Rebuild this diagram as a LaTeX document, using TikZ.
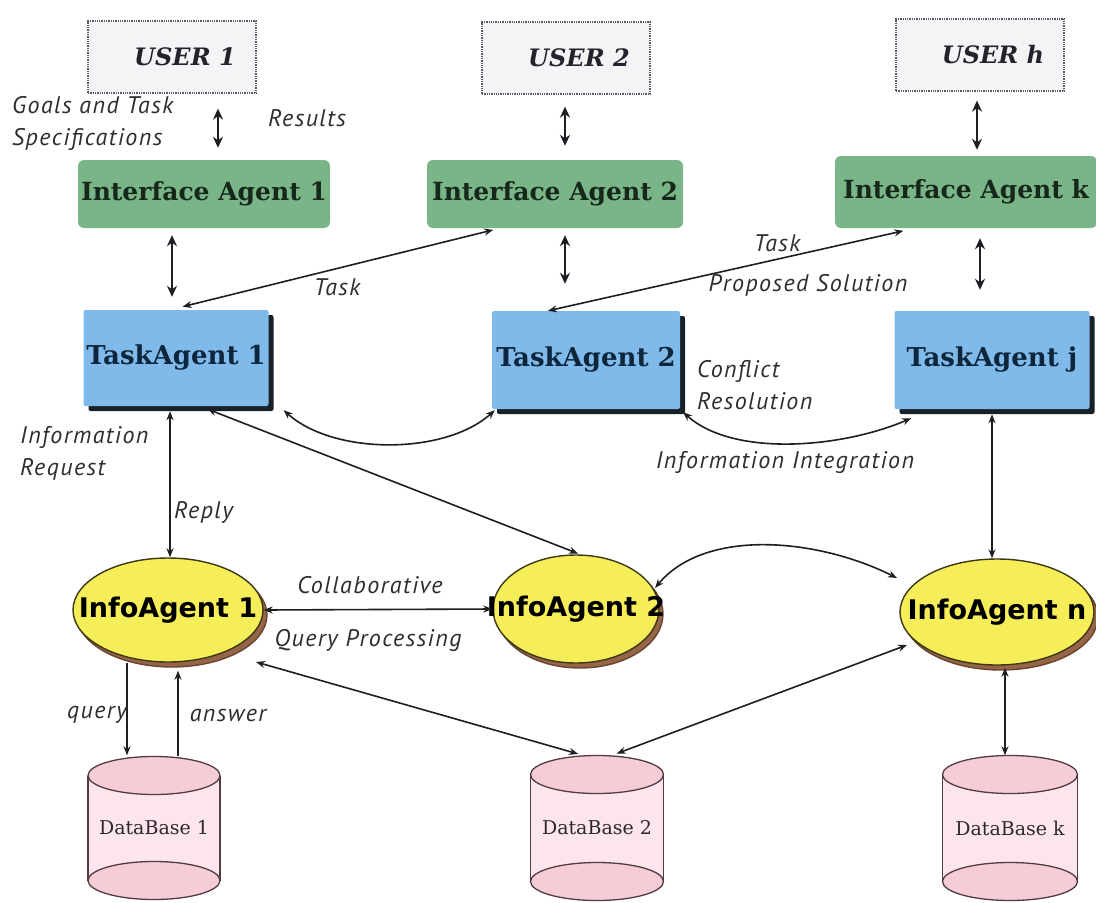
\documentclass[tikz,border=0pt]{standalone}
\usepackage{fontspec}
\usetikzlibrary{shapes.geometric,arrows.meta,shadows}

\newfontfamily\lblfont{PT Sans}[LetterSpace=6]
\newfontfamily\dvserif{DejaVu Serif}
\newfontfamily\dvsans{DejaVu Sans}

\definecolor{userfill}{RGB}{244,244,247}
\definecolor{userline}{RGB}{90,90,100}
\definecolor{usertext}{RGB}{35,35,45}
\definecolor{ifgreen}{RGB}{122,181,136}
\definecolor{iftext}{RGB}{22,40,26}
\definecolor{taskblue}{RGB}{128,186,234}
\definecolor{tasktext}{RGB}{14,38,60}
\definecolor{tshadow}{RGB}{24,32,40}
\definecolor{infoyellow}{RGB}{246,238,88}
\definecolor{infoline}{RGB}{60,55,20}
\definecolor{infoshadow}{RGB}{150,100,70}
\definecolor{dbbody}{RGB}{252,230,236}
\definecolor{dbcap}{RGB}{246,204,214}
\definecolor{dbline}{RGB}{80,60,66}
\definecolor{dbtextcol}{RGB}{45,40,45}
\definecolor{lblgray}{RGB}{45,45,50}
\definecolor{linecol}{RGB}{30,30,35}

% cylinder drawn around a named node: centre x, centre y, width, height, name, text
\newcommand\dbcyl[6]{%
  \fill[dbbody] (#1-#3/2,#2-#4/2+19) rectangle (#1+#3/2,#2+#4/2-19);
  \draw[dbline, line width=1.3pt, fill=dbcap] (#1,#2+#4/2-19) ellipse [x radius=#3/2, y radius=19];
  \draw[dbline, line width=1.3pt] (#1-#3/2,#2-#4/2+19) -- (#1-#3/2,#2+#4/2-19)
                                  (#1+#3/2,#2-#4/2+19) -- (#1+#3/2,#2+#4/2-19);
  \draw[dbline, line width=1.3pt, fill=dbcap] (#1,#2-#4/2+19) ellipse [x radius=#3/2, y radius=19];
  \node[dbtext, minimum width=#3pt, minimum height=#4pt, inner sep=0pt] (#5) at (#1,#2) {#6};
}

\tikzset{
  userbox/.style={draw=userline, densely dotted, line width=1.3pt, fill=userfill,
    minimum width=168pt, minimum height=72pt, inner sep=0pt,
    font=\dvserif\bfseries\itshape\fontsize{24}{27}\selectfont, text=usertext},
  ifbox/.style={rounded corners=6pt, fill=ifgreen, minimum height=68pt, inner sep=0pt,
    font=\dvserif\bfseries\fontsize{25}{28}\selectfont, text=iftext},
  taskbox/.style={fill=taskblue, minimum height=96pt, inner sep=0pt, rounded corners=2pt,
    copy shadow={shadow xshift=5pt, shadow yshift=-5pt, fill=tshadow, draw=none},
    font=\dvserif\bfseries\fontsize{26}{29}\selectfont, text=tasktext},
  infonode/.style={ellipse, draw=infoline, line width=1.4pt, fill=infoyellow,
    copy shadow={shadow xshift=4pt, shadow yshift=-5pt, fill=infoshadow, draw=infoshadow!70!black},
    inner sep=0pt, font=\dvsans\bfseries\fontsize{27}{30}\selectfont, text=black},
  dbtext/.style={font=\dvserif\fontsize{19}{21}\selectfont, text=dbtextcol},
  lbl/.style={font=\lblfont\itshape\fontsize{24}{32}\selectfont, text=lblgray, inner sep=0pt},
  link/.style={line width=1.6pt, draw=linecol},
  both/.style={link, {Stealth[length=9pt,width=7pt]}-{Stealth[length=9pt,width=7pt]}},
  shortboth/.style={link, line width=2.2pt, {Stealth[length=11pt,width=10pt]}-{Stealth[length=11pt,width=10pt]}},
  one/.style={link, -{Stealth[length=9pt,width=7pt]}},
}

\begin{document}
\begin{tikzpicture}[x=1pt, y=-1pt]
  \fill[white] (0,0) rectangle (1096,903);
  \useasboundingbox (0,0) rectangle (1096,903);

  % users
  \node[userbox] (u1) at (172,57) {\hspace*{26pt}USER 1};
  \node[userbox] (u2) at (566,58) {\hspace*{26pt}USER 2};
  \node[userbox] (uh) at (980,55) {\hspace*{26pt}USER h};

  % interface agents
  \node[ifbox, minimum width=252pt] (i1) at (204,194) {Interface Agent 1};
  \node[ifbox, minimum width=256pt] (i2) at (555,194) {Interface Agent 2};
  \node[ifbox, minimum width=262pt, minimum height=72pt] (ik) at (966,192) {Interface Agent k};

  % task agents
  \node[taskbox, minimum width=185pt] (t1) at (176,358) {TaskAgent 1};
  \node[taskbox, minimum width=188pt, minimum height=98pt] (t2) at (586,360) {TaskAgent 2};
  \node[taskbox, minimum width=195pt, minimum height=98pt] (tj) at (992,360) {TaskAgent j};

  % information agents
  \node[infonode, minimum width=190pt, minimum height=104pt] (a1) at (168,610) {\makebox[0pt]{InfoAgent 1}};
  \node[infonode, minimum width=166pt, minimum height=108pt] (a2) at (576,609) {\makebox[0pt]{InfoAgent 2}};
  \node[infonode, minimum width=194pt, minimum height=106pt] (an) at (997,612) {\makebox[0pt]{InfoAgent n}};

  % databases
  \dbcyl{154}{828}{132}{143}{d1}{DataBase 1}
  \dbcyl{597}{828}{133}{145}{d2}{DataBase 2}
  \dbcyl{1010}{828}{135}{145}{dk}{DataBase k}

  % user <-> interface agent
  \draw[shortboth, shorten <=15pt, shorten >=12pt] ([xshift=46pt]u1.south) -- ([xshift=14pt]i1.north);
  \draw[shortboth, shorten <=12pt, shorten >=14pt] ([xshift=-1pt]u2.south) -- ([xshift=10pt]i2.north);
  \draw[shortboth, shorten <=9pt, shorten >=6pt] ([xshift=-3pt]uh.south) -- ([xshift=11pt]ik.north);

  % interface agent <-> task agent
  \draw[shortboth, shorten <=7pt, shorten >=13pt] ([xshift=-32pt]i1.south) -- ([xshift=-4pt]t1.north);
  \draw[shortboth, shorten <=7pt, shorten >=27pt] ([xshift=10pt]i2.south) -- ([xshift=-21pt]t2.north);
  \draw[shortboth, shorten <=10pt, shorten >=21pt] ([xshift=14pt]ik.south) -- ([xshift=-12pt]tj.north);
  \draw[both, shorten <=13pt, shorten >=7pt] ([xshift=-6pt]t1.north) -- ([xshift=-55pt]i2.south);
  \draw[both, shorten >=12pt] ([xshift=-38pt]t2.north) -- ([xshift=-51pt]ik.south);

  % task agent <-> task agent
  \draw[both] ([shift={(15pt,-4pt)}]t1.south east) .. controls +(50,45) and +(-50,45) .. ([shift={(3pt,-1pt)}]t2.south west);
  \draw[both] ([shift={(3pt,-3pt)}]t2.south east) .. controls +(50,45) and +(-70,30) .. ([shift={(17pt,-9pt)}]tj.south west);

  % task agent <-> information agent
  \draw[both, shorten <=5pt] ([xshift=-6pt]t1.south) -- ([xshift=2pt]a1.north);
  \draw[both, shorten <=8pt, shorten >=2pt] ([xshift=24pt]t1.south) -- ([xshift=4pt]a2.north);
  \draw[both, shorten <=5pt] (tj.south) -- ([xshift=-5pt]an.north);

  % information agent <-> information agent
  \draw[both] (a1.east) -- (a2.west);
  \draw[both] ([shift={(79pt,21pt)}]a2.center) .. controls +(50,-60) and +(-80,-40) .. ([shift={(-100pt,34pt)}]an.center);

  % information agent <-> database
  \draw[both, shorten >=5pt] ([shift={(88pt,-52pt)}]a1.center) -- ([xshift=-14pt]d2.north);
  \draw[both, shorten >=5pt] ([shift={(-90pt,-33pt)}]an.center) -- ([xshift=15pt]d2.north);
  \draw[one, shorten >=1pt] ([xshift=-41pt]a1.south) -- ([xshift=-27pt]d1.north);
  \draw[one] ([xshift=24pt]d1.north) -- ([shift={(10pt,-8pt)}]a1.south);
  \draw[both, shorten <=2pt] ([xshift=8pt]an.south) -- ([xshift=-5pt]dk.north);

  % connector labels
  \node[lbl, anchor=north west, align=left] (lgoals) at (12,96) {Goals and Task\\Specifications};
  \node[lbl, anchor=west] (lres) at (268,118) {Results};
  \node[lbl] (ltask1) at (337,287) {Task};
  \node[lbl] (ltask2) at (777,243) {Task};
  \node[lbl] (lprop) at (808,285) {Proposed Solution};
  \node[lbl, anchor=north west, align=left] (lconf) at (697,360) {Conflict\\Resolution};
  \node[lbl] (linteg) at (785,462) {Information Integration};
  \node[lbl, anchor=north west, align=left] (linfo) at (20,426) {Information\\Request};
  \node[lbl, anchor=west] (lreply) at (174,512) {Reply};
  \node[lbl] (lcollab) at (370,585) {Collaborative};
  \node[lbl] (lquery) at (368,640) {Query Processing};
  \node[lbl] (lq) at (97,715) {query};
  \node[lbl] (la) at (228,715) {answer};
\end{tikzpicture}
\end{document}
